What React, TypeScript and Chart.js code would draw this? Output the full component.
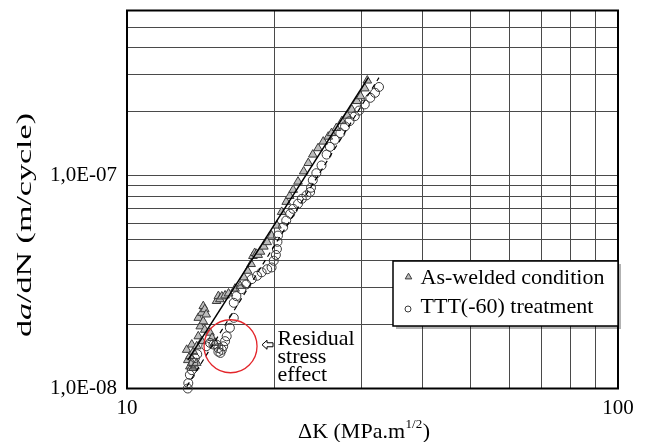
import React, { useEffect, useRef } from 'react';
import { Chart, registerables } from 'chart.js';

Chart.register(...registerables);

const SERIF = '"Liberation Serif", "Times New Roman", Times, serif';

// Axis ranges
const X_MIN = 10;
const X_MAX = 100;
const Y_MIN = 1e-8;
const Y_MAX = 6e-7;

// Grid (tick) positions
const xGridValues = [10, 20, 30, 40, 50, 60, 70, 80, 90, 100];
const yGridValues = [1e-8, 2e-8, 3e-8, 4e-8, 5e-8, 6e-8, 7e-8, 8e-8, 9e-8, 1e-7, 2e-7, 3e-7, 4e-7, 5e-7, 6e-7];

// Labelled ticks
const xTickValues = [10, 100];
const xTickLabels = ['10', '100'];
const yTickValues = [1e-8, 1e-7];
const yTickLabels = ['1,0E-08', '1,0E-07'];

const seriesLabels = ['As-welded condition', 'TTT(-60) treatment'];

// As-welded condition (triangles)
const asWeldedDK = [
  13.23, 13.3, 13.43, 13.43, 13.55, 13.55, 13.65, 13.65, 13.75, 13.87, 13.87, 13.97, 13.97, 14.1, 14.2, 14.2,
  14.3, 14.3, 14.4, 14.4, 14.5, 14.76, 14.9, 15.1, 15.22, 15.35, 15.46, 15.6, 15.84, 16.1, 16.6, 17.0,
  17.3, 17.6, 17.9, 18.05, 18.2, 18.35, 18.5, 18.7, 19.0, 19.3, 19.7, 20.2, 20.65, 21.1, 21.45, 21.8,
  22.3, 22.9, 23.4, 23.9, 24.5, 25.1, 25.7, 26.1, 26.7, 27.4, 28.1, 28.7, 29.4, 29.9, 30.5, 30.86,
];
const asWeldedRate = [
  1.52e-8, 1.36e-8, 1.42e-8, 1.27e-8, 1.32e-8, 1.61e-8, 1.49e-8, 1.25e-8, 1.27e-8, 1.58e-8, 1.32e-8, 1.76e-8, 2.15e-8, 1.96e-8, 1.67e-8, 2.27e-8,
  2.07e-8, 2.44e-8, 1.89e-8, 2.36e-8, 2.23e-8, 1.83e-8, 1.73e-8, 1.64e-8, 2.58e-8, 2.72e-8, 2.63e-8, 2.71e-8, 2.74e-8, 2.8e-8, 2.95e-8, 3.04e-8,
  3.33e-8, 3.58e-8, 3.85e-8, 4.2e-8, 4.34e-8, 4.3e-8, 4.25e-8, 4.4e-8, 4.65e-8, 4.88e-8, 5.24e-8, 5.84e-8, 6.77e-8, 7.55e-8, 8.05e-8, 8.6e-8,
  9.4e-8, 1.05e-7, 1.15e-7, 1.26e-7, 1.35e-7, 1.45e-7, 1.53e-7, 1.59e-7, 1.68e-7, 1.81e-7, 1.92e-7, 2.05e-7, 2.25e-7, 2.37e-7, 2.58e-7, 2.81e-7,
];

// TTT(-60) treatment (circles)
const tttDK = [
  13.3, 13.33, 13.43, 13.55, 13.65, 13.75, 13.9, 14.5, 14.76, 15.0, 15.2, 15.35, 15.35, 15.5, 15.6, 15.7,
  15.84, 15.96, 16.2, 16.5, 16.5, 16.7, 17.1, 17.5, 17.95, 18.4, 18.8, 19.3, 19.7, 19.9, 20.1, 20.2,
  20.25, 20.3, 20.8, 21.1, 21.5, 21.8, 22.3, 22.7, 23.2, 23.6, 23.7, 23.9, 24.3, 24.9, 25.5, 25.9,
  26.5, 27.2, 27.8, 28.4, 29.1, 29.7, 30.5, 31.3, 32.0, 32.6,
];
const tttRate = [
  1.0e-8, 1.06e-8, 1.16e-8, 1.22e-8, 1.32e-8, 1.39e-8, 1.45e-8, 1.58e-8, 1.64e-8, 1.61e-8, 1.61e-8, 1.55e-8, 1.49e-8, 1.47e-8, 1.52e-8, 1.58e-8,
  1.67e-8, 1.76e-8, 1.93e-8, 2.15e-8, 2.53e-8, 2.72e-8, 2.93e-8, 3.09e-8, 3.27e-8, 3.39e-8, 3.52e-8, 3.64e-8, 3.71e-8, 3.99e-8, 4.25e-8, 4.53e-8,
  4.9e-8, 5.24e-8, 5.74e-8, 6.17e-8, 6.64e-8, 7.0e-8, 7.4e-8, 7.8e-8, 8.1e-8, 8.4e-8, 8.8e-8, 9.55e-8, 1.03e-7, 1.12e-7, 1.26e-7, 1.37e-7,
  1.48e-7, 1.59e-7, 1.71e-7, 1.81e-7, 1.91e-7, 2.03e-7, 2.17e-7, 2.33e-7, 2.46e-7, 2.62e-7,
];

// Fitted power-law lines (end points)
const asWeldedFitDK = [13.3, 31.0];
const asWeldedFitRate = [1.36e-8, 2.9e-7];
const tttFitDK = [13.23, 32.6];
const tttFitRate = [1.02e-8, 2.9e-7];

// Annotation
const residualCenter = [16.25, 1.58e-8];
const annotationLines = ['Residual', 'stress', 'effect'];

const toPoints = (xs: number[], ys: number[]) => xs.map((x, i) => ({ x, y: ys[i] }));

function tickLabel(value: number, values: number[], labels: string[]) {
  for (let i = 0; i < values.length; i++) {
    if (Math.abs(Math.log10(value) - Math.log10(values[i])) < 1e-6) return labels[i];
  }
  return '';
}

function drawTriangle(ctx: CanvasRenderingContext2D, x: number, y: number, r: number) {
  ctx.beginPath();
  ctx.moveTo(x, y - r);
  ctx.lineTo(x + r * 0.866, y + r * 0.5);
  ctx.lineTo(x - r * 0.866, y + r * 0.5);
  ctx.closePath();
}

const decorPlugin = {
  id: 'decor',
  beforeDatasetsDraw(chart: any) {
    const { ctx, chartArea: a } = chart;
    ctx.save();
    ctx.strokeStyle = '#000';
    ctx.lineWidth = 2;
    ctx.strokeRect(a.left, a.top, a.right - a.left, a.bottom - a.top);
    ctx.restore();
  },
  afterDatasetsDraw(chart: any) {
    const { ctx, chartArea: a, scales } = chart;
    const xs = scales.x;
    const ys = scales.y;
    ctx.save();

    // Red circle
    const cx = xs.getPixelForValue(residualCenter[0]);
    const cy = ys.getPixelForValue(residualCenter[1]);
    ctx.beginPath();
    ctx.arc(cx, cy, 26.5, 0, Math.PI * 2);
    ctx.strokeStyle = '#e3262b';
    ctx.lineWidth = 1.3;
    ctx.stroke();

    // Hollow arrow pointing left
    const tx = cx + 31.5;
    const ty = cy - 1.5;
    ctx.beginPath();
    ctx.moveTo(tx, ty);
    ctx.lineTo(tx + 5, ty - 4.5);
    ctx.lineTo(tx + 5, ty - 2);
    ctx.lineTo(tx + 11, ty - 2);
    ctx.lineTo(tx + 11, ty + 2);
    ctx.lineTo(tx + 5, ty + 2);
    ctx.lineTo(tx + 5, ty + 4.5);
    ctx.closePath();
    ctx.fillStyle = '#fff';
    ctx.fill();
    ctx.strokeStyle = '#000';
    ctx.lineWidth = 1;
    ctx.stroke();

    // Annotation text
    ctx.fillStyle = '#000';
    ctx.font = `22px ${SERIF}`;
    ctx.textAlign = 'left';
    ctx.textBaseline = 'alphabetic';
    annotationLines.forEach((t, i) => ctx.fillText(t, cx + 47, cy - 1.5 + 18 * i));

    // Legend box
    const bw = 225;
    const bh = 65;
    const bx = a.right - bw;
    const by = a.top + 250.5;
    ctx.fillStyle = 'rgba(0,0,0,0.3)';
    ctx.fillRect(bx + 3, by + 3, bw, bh);
    ctx.fillStyle = '#fff';
    ctx.fillRect(bx, by, bw, bh);
    ctx.strokeStyle = '#000';
    ctx.lineWidth = 1.5;
    ctx.strokeRect(bx, by, bw, bh);

    drawTriangle(ctx, bx + 15.5, by + 16, 3.8);
    ctx.fillStyle = '#bdbdbd';
    ctx.fill();
    ctx.strokeStyle = '#3a3a3a';
    ctx.lineWidth = 1;
    ctx.stroke();
    ctx.beginPath();
    ctx.arc(bx + 15, by + 48, 3, 0, Math.PI * 2);
    ctx.stroke();

    ctx.fillStyle = '#000';
    ctx.font = `22px ${SERIF}`;
    ctx.fillText(seriesLabels[0], bx + 27.5, by + 22.5);
    ctx.fillText(seriesLabels[1], bx + 27.5, by + 51.5);

    // X axis title with superscript
    const main = 'ΔK (MPa.m';
    const sup = '1/2';
    const end = ')';
    ctx.font = `22px ${SERIF}`;
    const w1 = ctx.measureText(main).width;
    const w3 = ctx.measureText(end).width;
    ctx.font = `13px ${SERIF}`;
    const w2 = ctx.measureText(sup).width;
    const total = w1 + w2 + w3;
    const xc = (a.left + a.right) / 2 - 9;
    const base = a.bottom + 49.5;
    const x0 = xc - total / 2;
    ctx.font = `22px ${SERIF}`;
    ctx.fillText(main, x0, base);
    ctx.font = `13px ${SERIF}`;
    ctx.fillText(sup, x0 + w1 + 0.5, base - 10);
    ctx.font = `22px ${SERIF}`;
    ctx.fillText(end, x0 + w1 + w2 + 1, base);

    // Y axis title (rotated, with italic a)
    const parts = [
      { t: 'd', f: `21px ${SERIF}` },
      { t: 'a', f: `italic 21px ${SERIF}` },
      { t: '/dN (m/cycle)', f: `21px ${SERIF}` },
    ];
    let tw = 0;
    const widths = parts.map((p) => {
      ctx.font = p.f;
      const w = ctx.measureText(p.t).width;
      tw += w;
      return w;
    });
    const targetLen = 224;
    const sx = targetLen / tw;
    ctx.translate(a.left - 102, (a.top + a.bottom) / 2 + 25.5);
    ctx.rotate(-Math.PI / 2);
    ctx.scale(sx, 1);
    ctx.textBaseline = 'middle';
    let px = -tw / 2;
    parts.forEach((p, i) => {
      ctx.font = p.f;
      ctx.fillText(p.t, px, 0);
      px += widths[i];
    });

    ctx.restore();
  },
};

export default function App() {
  const canvasRef = useRef<HTMLCanvasElement | null>(null);

  useEffect(() => {
    document.body.style.margin = '0';
    const canvas = canvasRef.current;
    if (!canvas) return;
    Chart.defaults.font.family = SERIF;

    const chart = new Chart(canvas, {
      type: 'scatter',
      data: {
        datasets: [
          {
            label: 'fit-as-welded',
            data: toPoints(asWeldedFitDK, asWeldedFitRate),
            showLine: true,
            borderColor: '#000',
            borderWidth: 1.5,
            pointRadius: 0,
            fill: false,
            order: 0,
          },
          {
            label: 'fit-ttt',
            data: toPoints(tttFitDK, tttFitRate),
            showLine: true,
            borderColor: '#000',
            borderWidth: 1.2,
            borderDash: [5, 4],
            pointRadius: 0,
            fill: false,
            order: 0,
          },
          {
            label: seriesLabels[0],
            data: toPoints(asWeldedDK, asWeldedRate),
            pointStyle: 'triangle',
            pointRadius: 5,
            backgroundColor: '#bdbdbd',
            borderColor: '#3a3a3a',
            borderWidth: 1,
            clip: false,
            order: 2,
          },
          {
            label: seriesLabels[1],
            data: toPoints(tttDK, tttRate),
            pointStyle: 'circle',
            pointRadius: 4.5,
            backgroundColor: 'rgba(255,255,255,0)',
            borderColor: '#3a3a3a',
            borderWidth: 1,
            clip: false,
            order: 1,
          },
        ] as any,
      },
      options: {
        animation: false,
        responsive: false,
        devicePixelRatio: 1,
        events: [],
        layout: { padding: { top: 10.5, right: 30, bottom: 0, left: 0 } },
        plugins: { legend: { display: false }, tooltip: { enabled: false }, title: { display: false } },
        scales: {
          x: {
            type: 'logarithmic',
            position: 'bottom',
            min: X_MIN,
            max: X_MAX,
            grid: { color: '#4a4a4a', lineWidth: 1, drawTicks: false },
            border: { display: false },
            ticks: {
              autoSkip: false,
              maxRotation: 0,
              padding: 7,
              color: '#000',
              font: { family: SERIF, size: 21 },
              callback: (v: any) => tickLabel(Number(v), xTickValues, xTickLabels),
            },
            afterBuildTicks: (s: any) => {
              s.ticks = xGridValues.map((v) => ({ value: v }));
            },
            afterFit: (s: any) => {
              s.height = 53.5;
              s.paddingLeft = 0;
              s.paddingRight = 0;
            },
          },
          y: {
            type: 'logarithmic',
            position: 'left',
            min: Y_MIN,
            max: Y_MAX,
            grid: { color: '#4a4a4a', lineWidth: 1, drawTicks: false },
            border: { display: false },
            ticks: {
              autoSkip: false,
              padding: 10,
              color: '#000',
              font: { family: SERIF, size: 21 },
              callback: (v: any) => tickLabel(Number(v), yTickValues, yTickLabels),
            },
            afterBuildTicks: (s: any) => {
              s.ticks = yGridValues.map((v) => ({ value: v }));
            },
            afterFit: (s: any) => {
              s.width = 127;
              s.paddingTop = 0;
              s.paddingBottom = 0;
            },
          },
        },
      } as any,
      plugins: [decorPlugin],
    });

    return () => chart.destroy();
  }, []);

  return (
    <div style={{ position: 'relative', width: 648, height: 442, background: '#fff' }}>
      <canvas ref={canvasRef} width={648} height={442} style={{ width: 648, height: 442, display: 'block' }} />
    </div>
  );
}
